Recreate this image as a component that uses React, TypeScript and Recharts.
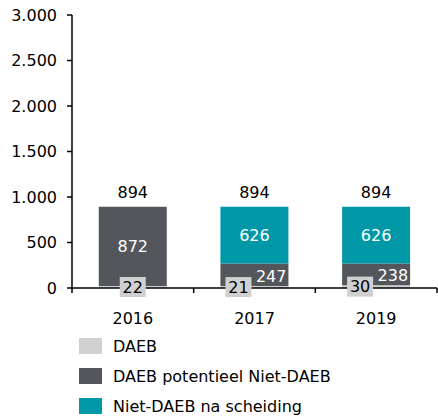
import React from 'react';
import { BarChart, Bar, XAxis, YAxis, Legend, LabelList } from 'recharts';

const categories = ['2016', '2017', '2019'];
const daebValues = [22, 21, 30];
const potentieelValues = [872, 247, 238];
const nietDaebValues = [0, 626, 626];
const yTicks = [0, 500, 1000, 1500, 2000, 2500, 3000];
const seriesNames = ['DAEB', 'DAEB potentieel Niet-DAEB', 'Niet-DAEB na scheiding'];

const COLORS = ['#d0d0d0', '#53565a', '#0097a7'];
const FONT = '"DejaVu Sans", Verdana, sans-serif';
const W = 438;
const H = 418;
const MARGIN = { top: 15, right: 1, left: 0, bottom: 0 };
const YAXIS_W = 72;

const data = categories.map((c, i) => ({
  year: c,
  daeb: daebValues[i],
  pot: potentieelValues[i],
  niet: nietDaebValues[i],
  total: daebValues[i] + potentieelValues[i] + nietDaebValues[i],
}));

const fmt = (v: number) => String(v).replace(/\B(?=(\d{3})+(?!\d))/g, '.');

const band = (W - MARGIN.left - MARGIN.right - YAXIS_W) / categories.length;

const XTick = (props: any) => {
  const { x, y, payload, index } = props;
  return (
    <g>
      <line x1={x - band / 2} x2={x - band / 2} y1={y} y2={y + 5} stroke="#000" strokeWidth={1.5} />
      {index === categories.length - 1 && (
        <line x1={x + band / 2} x2={x + band / 2} y1={y} y2={y + 5} stroke="#000" strokeWidth={1.5} />
      )}
      <text x={x} y={y + 36} textAnchor="middle" fontSize={16} fill="#000" fontFamily={FONT}>
        {payload.value}
      </text>
    </g>
  );
};

const TotalText = ({ x, y, width, total }: any) => (
  <text x={x + width / 2} y={y - 14} dy="0.355em" textAnchor="middle" fontSize={16} fill="#000" fontFamily={FONT}>
    {total}
  </text>
);

const DaebLabel = (props: any) => {
  const { x, y, width, height, value, index } = props;
  const cx = x + width / 2 + (index === 0 ? 0 : -16);
  const cy = y + height / 2;
  return (
    <g>
      <rect x={cx - 13} y={cy - 10} width={26} height={20} fill="#d0d0d0" />
      <text x={cx} y={cy} dy="0.355em" textAnchor="middle" fontSize={16} fill="#000" fontFamily={FONT}>
        {value}
      </text>
    </g>
  );
};

const PotLabel = (props: any) => {
  const { x, y, width, height, value, index } = props;
  const row = data[index];
  const showTotal = row && row.niet === 0;
  if (index === 0) {
    return (
      <g>
        <text x={x + width / 2} y={y + height / 2} dy="0.355em" textAnchor="middle" fontSize={16} fill="#fff" fontFamily={FONT}>
          {value}
        </text>
        {showTotal && <TotalText x={x} y={y} width={width} total={row.total} />}
      </g>
    );
  }
  return (
    <g>
      <text x={x + width - 2} y={y + height / 2 + 1} dy="0.355em" textAnchor="end" fontSize={16} fill="#fff" fontFamily={FONT}>
        {value}
      </text>
      {showTotal && <TotalText x={x} y={y} width={width} total={row.total} />}
    </g>
  );
};

const NietLabel = (props: any) => {
  const { x, y, width, height, value, index } = props;
  const total = data[index]?.total;
  if (!(value > 0)) return null;
  return (
    <g>
      <text x={x + width / 2} y={y + height / 2} dy="0.355em" textAnchor="middle" fontSize={16} fill="#fff" fontFamily={FONT}>
        {value}
      </text>
      <TotalText x={x} y={y} width={width} total={total} />
    </g>
  );
};

const LegendContent = () => (
  <div style={{ fontFamily: FONT, fontSize: 16, color: '#000' }}>
    {seriesNames.map((n, i) => (
      <div key={n} style={{ display: 'flex', alignItems: 'center', height: 30 }}>
        <div style={{ width: 23, height: 16, background: COLORS[i], marginRight: 11 }} />
        <span>{n}</span>
      </div>
    ))}
  </div>
);

export default function App() {
  return (
    <div style={{ position: 'absolute', left: 0, top: 0, width: W, height: H, background: '#fff' }}>
      <BarChart width={W} height={H} data={data} margin={MARGIN} barCategoryGap="22%" style={{ fontFamily: FONT }}>
        <YAxis
          width={YAXIS_W}
          domain={[0, 3000]}
          ticks={yTicks}
          tickFormatter={fmt}
          interval={0}
          tickSize={5}
          tickMargin={10}
          axisLine={{ stroke: '#000', strokeWidth: 1.5 }}
          tickLine={{ stroke: '#000', strokeWidth: 1.5 }}
          tick={{ fill: '#000', fontSize: 16, fontFamily: FONT }}
        />
        <XAxis
          dataKey="year"
          height={40}
          tickSize={0}
          tickMargin={0}
          tickLine={false}
          interval={0}
          axisLine={{ stroke: '#000', strokeWidth: 1.5 }}
          tick={<XTick />}
        />
        <Legend
          layout="horizontal"
          verticalAlign="bottom"
          align="left"
          content={<LegendContent />}
          wrapperStyle={{ left: 79, top: 331, bottom: 'auto', width: 300 }}
        />
        <Bar dataKey="daeb" stackId="a" fill={COLORS[0]} isAnimationActive={false}>
          <LabelList dataKey="daeb" content={<DaebLabel />} />
        </Bar>
        <Bar dataKey="pot" stackId="a" fill={COLORS[1]} isAnimationActive={false}>
          <LabelList dataKey="pot" content={<PotLabel />} />
        </Bar>
        <Bar dataKey="niet" stackId="a" fill={COLORS[2]} isAnimationActive={false}>
          <LabelList dataKey="niet" content={<NietLabel />} />
        </Bar>
      </BarChart>
    </div>
  );
}
